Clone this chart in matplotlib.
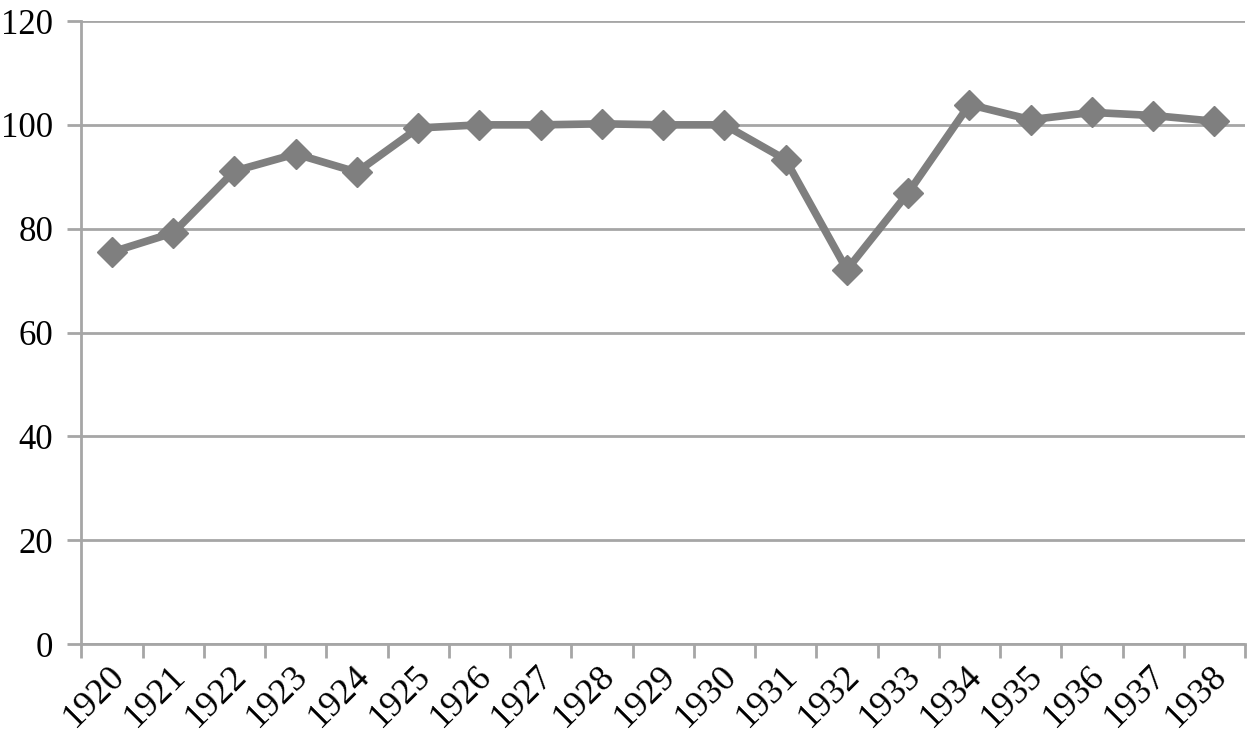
import numpy as np
import matplotlib
matplotlib.use('Agg')
import matplotlib.pyplot as plt
import matplotlib.transforms as mtransforms
from matplotlib.ticker import FixedLocator

years = [str(y) for y in range(1920, 1939)]
values = [75.5, 79.2, 91.1, 94.4, 90.9, 99.4, 100.0, 100.0, 100.2, 100.0,
          100.0, 93.3, 72.1, 86.9, 103.9, 101.0, 102.4, 101.8, 100.7]
yticks = [0, 20, 40, 60, 80, 100, 120]

plt.rcParams['font.family'] = ['Liberation Serif', 'DejaVu Serif']

fig = plt.figure(figsize=(12.5, 7.37), dpi=100)
ax = fig.add_axes([0.065, 0.126, 0.931, 0.8455])

x = np.arange(len(years))
grid_c = '#A6A6A6'
ax.plot(x, values, color='#7F7F7F', lw=5.5, marker='D', ms=15, zorder=3)

ax.set_xlim(-0.5, len(years) - 0.5)
ax.set_ylim(0, 120)
ax.set_yticks(yticks)
ax.set_yticklabels([str(v) for v in yticks], fontsize=25)
ax.yaxis.grid(True, color=grid_c, lw=2)
ax.set_axisbelow(True)

# category boundaries carry the tick marks, labels sit at centres
ax.set_xticks(x)
ax.set_xticklabels(years, rotation=45, ha='right', va='top',
                   rotation_mode='anchor', fontsize=26)
ax.tick_params(axis='x', which='major', length=0, pad=11)
offset = mtransforms.ScaledTranslation(-4 / 100, 0, fig.dpi_scale_trans)
for lbl in ax.get_xticklabels():
    lbl.set_transform(lbl.get_transform() + offset)
ax.xaxis.set_minor_locator(FixedLocator(np.arange(-0.5, len(years), 1.0)))
ax.tick_params(axis='x', which='minor', length=10, width=2, color=grid_c)
ax.tick_params(axis='y', length=10, width=2, color=grid_c, pad=10)

for s in ['top', 'right']:
    ax.spines[s].set_visible(False)
for s in ['left', 'bottom']:
    ax.spines[s].set_color(grid_c)
    ax.spines[s].set_linewidth(2)

plt.savefig('out.png', dpi=100)
